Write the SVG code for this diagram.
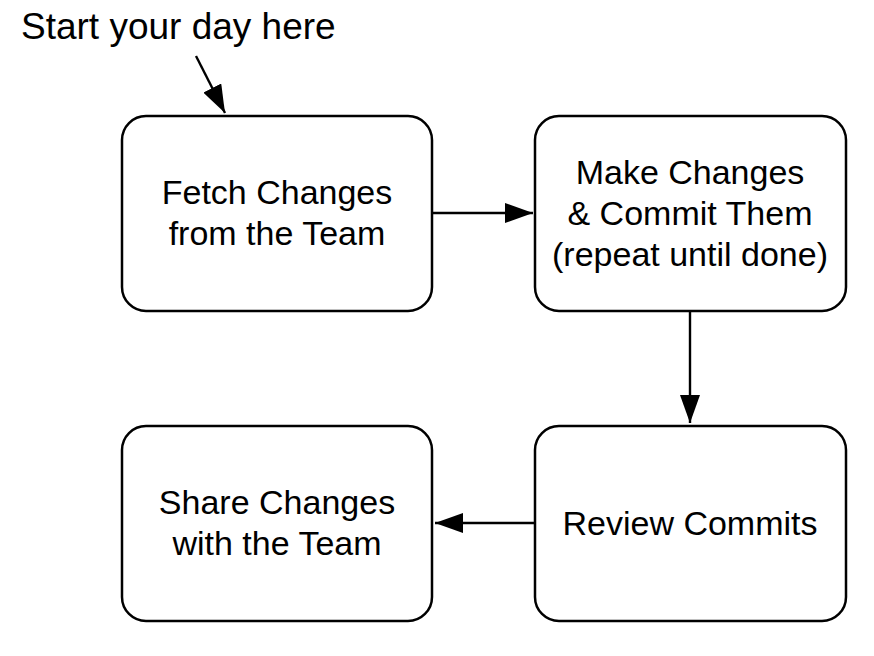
<svg xmlns="http://www.w3.org/2000/svg" width="874" height="656" viewBox="0 0 874 656">
<style>
.box{fill:#fff;stroke:#000;stroke-width:2.5}
.t{font-family:"Liberation Sans",Arial,sans-serif;font-size:34px;fill:#000;text-anchor:middle}
.lbl{font-family:"Liberation Sans",Arial,sans-serif;font-size:37px;fill:#000}
.c{stroke:#000;stroke-width:2.4;fill:none;marker-end:url(#ah)}
</style>
<defs>
<marker id="ah" viewBox="0 0 28 20" refX="28" refY="10" markerWidth="28" markerHeight="20" markerUnits="userSpaceOnUse" orient="auto">
<path d="M0,0 L28,10 L0,20 Z" fill="#000"/>
</marker>
</defs>
<rect width="874" height="656" fill="#fff"/>
<text class="lbl" x="21" y="39">Start your day here</text>
<g id="connectors">
<line class="c" x1="196" y1="56" x2="225" y2="113"/>
<line class="c" x1="432" y1="213" x2="533" y2="213"/>
<line class="c" x1="690" y1="311" x2="690" y2="423"/>
<line class="c" x1="535" y1="523" x2="435" y2="523"/>
</g>
<g id="fetch">
<rect class="box" x="122" y="116" width="310" height="195" rx="24"/>
<text class="t" x="277" y="204">Fetch Changes</text>
<text class="t" x="277" y="245">from the Team</text>
</g>
<g id="make">
<rect class="box" x="535" y="116" width="311" height="195" rx="24"/>
<text class="t" x="690" y="184">Make Changes</text>
<text class="t" x="690" y="225">&amp; Commit Them</text>
<text class="t" x="690" y="266">(repeat until done)</text>
</g>
<g id="share">
<rect class="box" x="122" y="426" width="310" height="195" rx="24"/>
<text class="t" x="277" y="514">Share Changes</text>
<text class="t" x="277" y="555">with the Team</text>
</g>
<g id="review">
<rect class="box" x="535" y="426" width="311" height="195" rx="24"/>
<text class="t" x="690" y="535">Review Commits</text>
</g>
</svg>
